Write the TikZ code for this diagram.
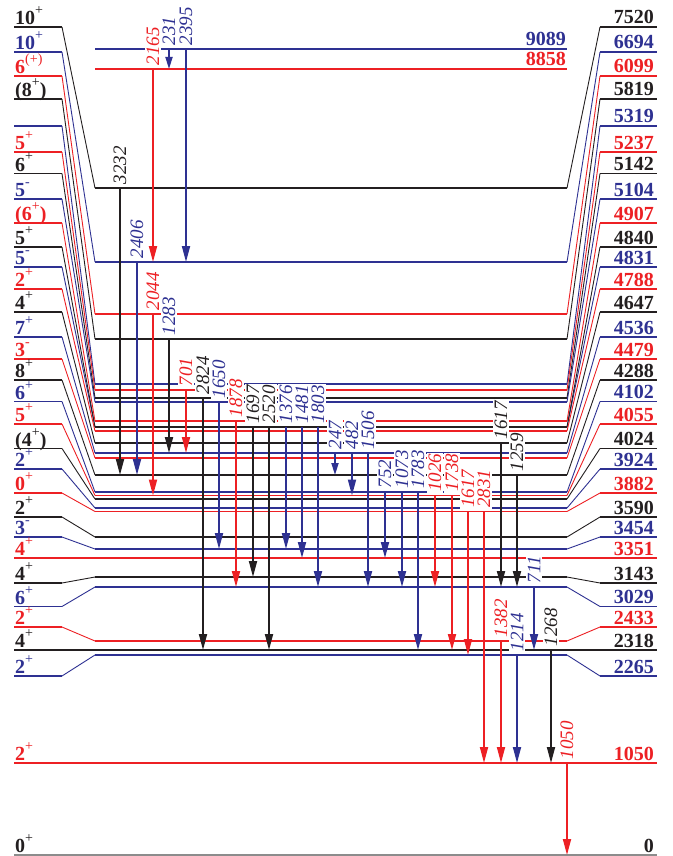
\documentclass[tikz,border=0pt]{standalone}
\usepackage{fontspec}
\setmainfont{Liberation Serif}
\usetikzlibrary{arrows.meta,calc}
\definecolor{lr}{RGB}{237,32,36}
\definecolor{lb}{RGB}{46,49,146}
\definecolor{lk}{RGB}{35,31,32}
\definecolor{lg}{RGB}{140,140,140}
\newcommand\jp[2]{#1\raisebox{10pt}{\fontsize{14}{14}\selectfont\mdseries #2}}
\tikzset{
 lev/.style={line width=1.8pt},
 slant/.style={line width=0.9pt},
 arr/.style={line width=1.8pt,-{Triangle[length=16pt,width=8pt]}},
 sarr/.style={line width=1.8pt,-{Triangle[length=12pt,width=7pt]}},
 tlab/.style={rotate=90,anchor=west,fill=white,inner xsep=1pt,inner ysep=2pt,font=\fontsize{19}{19}\selectfont\itshape},
 llab/.style={anchor=base west,inner sep=0pt,font=\fontsize{20}{20}\selectfont\bfseries},
 rlab/.style={anchor=base east,inner sep=0pt,font=\fontsize{20}{20}\selectfont\bfseries},
}
% level: id, colour, y outer, y middle, left label, right label
\newcommand\lvl[6]{%
 \coordinate (a#1) at (14,#3);
 \coordinate (b#1) at (62,#3);
 \coordinate (m#1) at (95,#4);
 \coordinate (n#1) at (567,#4);
 \coordinate (c#1) at (600,#3);
 \coordinate (d#1) at (657,#3);
 \draw[lev,#2] (a#1) -- (b#1);
 \draw[slant,#2] (b#1) -- (m#1);
 \draw[lev,#2] (m#1) -- (n#1);
 \draw[slant,#2] (n#1) -- (c#1);
 \draw[lev,#2] (c#1) -- (d#1);
 \node[llab,text=#2] (ll#1) at ($(a#1)+(1,-2.5)$) {#5};
 \node[rlab,text=#2] (rl#1) at ($(d#1)+(-3,-3)$) {#6};
}
% straight level: id, colour, y, left label, right label
\newcommand\slvl[5]{%
 \coordinate (a#1) at (14,#3);
 \coordinate (m#1) at (95,#3);
 \coordinate (d#1) at (657,#3);
 \draw[lev,#2] (a#1) -- (d#1);
 \node[llab,text=#2] (ll#1) at ($(a#1)+(1,-2.5)$) {#4};
 \node[rlab,text=#2] (rl#1) at ($(d#1)+(-3,-3)$) {#5};
}
% transition: name, x, from, to, arrow colour, label, label colour, style
\newcommand\tr[8]{%
 \coordinate (s#1) at (#2,0 |- m#3);
 \coordinate (e#1) at (#2,0 |- m#4);
 \draw[#8,#5] (s#1) -- (e#1);
 \node[tlab,text=#7] (t#1) at ($(s#1)+(0,-2.5)$) {#6};
}
\begin{document}
\begin{tikzpicture}[x=1pt,y=-1pt]
\useasboundingbox (0,0) rectangle (672,856);
\fill[white] (0,0) rectangle (672,856);
% isolated high levels
\coordinate (m9089) at (95,49);
\coordinate (n9089) at (567,49);
\coordinate (m8858) at (95,69);
\coordinate (n8858) at (567,69);
\draw[lev,lb] (m9089) -- (n9089);
\draw[lev,lr] (m8858) -- (n8858);
\node[rlab,text=lb] (rl9089) at ($(n9089)+(-1,-3)$) {9089};
\node[rlab,text=lr] (rl8858) at ($(n8858)+(-1,-3)$) {8858};
% levels
\lvl{7520}{lk}{27}{188}{\jp{10}{+}}{7520}
\lvl{6694}{lb}{52}{262}{\jp{10}{+}}{6694}
\lvl{6099}{lr}{76}{314}{\jp{6}{(+)}}{6099}
\lvl{5819}{lk}{99}{339}{\jp{(8}{+})}{5819}
\lvl{5319}{lb}{126}{384}{}{5319}
\lvl{5237}{lr}{152}{390}{\jp{5}{+}}{5237}
\lvl{5142}{lk}{173.5}{398}{\jp{6}{+}}{5142}
\lvl{5104}{lb}{199}{402}{\jp{5}{-}}{5104}
\lvl{4907}{lr}{223}{421}{\jp{(6}{+})}{4907}
\lvl{4831}{lb}{267}{427}{\jp{5}{-}}{4831}
\lvl{4840}{lk}{247}{427}{\jp{5}{+}}{4840}
\lvl{4788}{lr}{289}{431}{\jp{2}{+}}{4788}
\lvl{4647}{lk}{312}{443}{\jp{4}{+}}{4647}
\lvl{4536}{lb}{337}{453}{\jp{7}{+}}{4536}
\lvl{4479}{lr}{359}{458}{\jp{3}{-}}{4479}
\lvl{4288}{lk}{380}{475}{\jp{8}{+}}{4288}
\lvl{4102}{lb}{401.5}{492}{\jp{6}{+}}{4102}
\lvl{4055}{lr}{424}{495.5}{\jp{5}{+}}{4055}
\lvl{4024}{lk}{448.5}{499}{\jp{(4}{+})}{4024}
\lvl{3924}{lb}{469}{508}{\jp{2}{+}}{3924}
\lvl{3882}{lr}{493}{511.5}{\jp{0}{+}}{3882}
\lvl{3590}{lk}{517}{537}{\jp{2}{+}}{3590}
\lvl{3454}{lb}{537}{549}{\jp{3}{-}}{3454}
\slvl{3351}{lr}{558}{\jp{4}{+}}{3351}
\lvl{3143}{lk}{583}{577}{\jp{4}{+}}{3143}
\lvl{3029}{lb}{606.5}{587}{\jp{6}{+}}{3029}
\lvl{2433}{lr}{627}{641}{\jp{2}{+}}{2433}
\slvl{2318}{lk}{650}{\jp{4}{+}}{2318}
\lvl{2265}{lb}{676}{655}{\jp{2}{+}}{2265}
\slvl{1050}{lr}{763}{\jp{2}{+}}{1050}
\coordinate (a0) at (14,855);
\coordinate (m0) at (95,855);
\coordinate (d0) at (657,855);
\draw[line width=1.5pt,lg] (a0) -- (d0);
\node[llab,text=lk] (ll0) at ($(a0)+(1,-2.5)$) {\jp{0}{+}};
\node[rlab,text=lk] (rl0) at ($(d0)+(-3,-3)$) {0};
% transitions
\tr{2165}{153}{8858}{6694}{lr}{2165}{lr}{arr}
\tr{231}{169}{9089}{8858}{lb}{231}{lb}{sarr}
\tr{2395}{186}{9089}{6694}{lb}{2395}{lb}{arr}
\tr{3232}{120}{7520}{4288}{lk}{3232}{lk}{arr}
\tr{2406}{137}{6694}{4288}{lb}{2406}{lb}{arr}
\tr{2044}{153}{6099}{4055}{lr}{2044}{lr}{arr}
\tr{1283}{169}{5819}{4536}{lk}{1283}{lb}{arr}
\tr{701}{186}{5237}{4536}{lr}{701}{lr}{arr}
\tr{2824}{203}{5142}{2318}{lk}{2824}{lk}{arr}
\tr{1650}{219}{5104}{3454}{lb}{1650}{lb}{arr}
\tr{1878}{236}{4907}{3029}{lr}{1878}{lr}{arr}
\tr{1697}{253}{4840}{3143}{lk}{1697}{lk}{arr}
\tr{2520}{269}{4840}{2318}{lk}{2520}{lk}{arr}
\tr{1376}{286}{4831}{3454}{lb}{1376}{lb}{arr}
\tr{1481}{302}{4831}{3351}{lb}{1481}{lb}{arr}
\tr{1803}{318}{4831}{3029}{lb}{1803}{lb}{arr}
\tr{247}{335}{4536}{4288}{lb}{247}{lb}{sarr}
\tr{482}{352}{4536}{4055}{lb}{482}{lb}{arr}
\tr{1506}{368}{4536}{3029}{lb}{1506}{lb}{arr}
\tr{752}{385}{4102}{3351}{lb}{752}{lb}{arr}
\tr{1073}{402}{4102}{3029}{lb}{1073}{lb}{arr}
\tr{1783}{418}{4102}{2318}{lb}{1783}{lb}{arr}
\tr{1026}{435}{4055}{3029}{lr}{1026}{lr}{arr}
\tr{1738}{452}{4055}{2318}{lr}{1738}{lr}{arr}
\tr{1617r}{468}{3882}{2265}{lr}{1617}{lr}{arr}
\tr{2831}{484}{3882}{1050}{lr}{2831}{lr}{arr}
\tr{1617k}{501}{4647}{3029}{lk}{1617}{lk}{arr}
\tr{1259}{517}{4288}{3029}{lk}{1259}{lk}{arr}
\tr{711}{534}{3029}{2318}{lb}{711}{lb}{arr}
\tr{1382}{501}{2433}{1050}{lr}{1382}{lr}{arr}
\tr{1214}{517}{2265}{1050}{lb}{1214}{lb}{arr}
\tr{1268}{551}{2318}{1050}{lk}{1268}{lk}{arr}
\tr{1050}{567}{1050}{0}{lr}{1050}{lr}{arr}
\end{tikzpicture}
\end{document}
